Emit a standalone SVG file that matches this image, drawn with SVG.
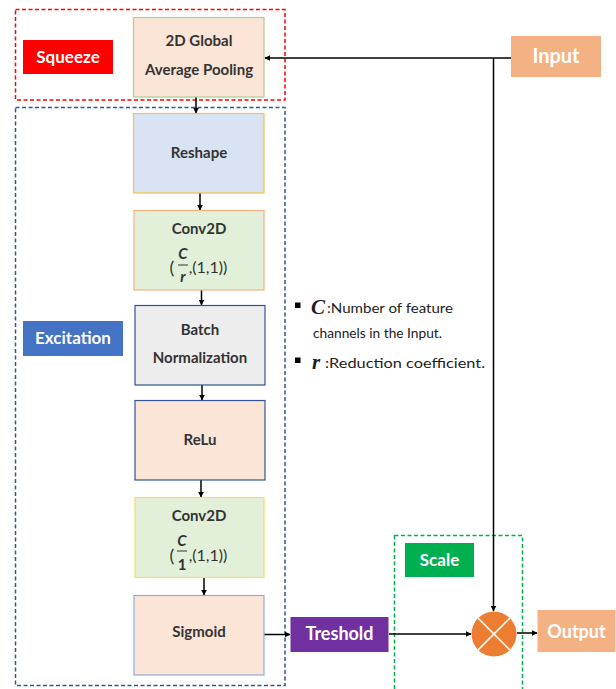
<svg xmlns="http://www.w3.org/2000/svg" width="616" height="689" viewBox="0 0 616 689">
  <defs>
    <style>
      .node text { font-family: Lato, "Open Sans", sans-serif; font-weight: bold; font-size: 15px; fill: #333; text-anchor: middle; }
      .tag { font-family: Lato, "Open Sans", sans-serif; font-weight: bold; font-size: 17px; fill: #fff; text-anchor: middle; }
      .legend { font-family: Lato, "Open Sans", sans-serif; font-size: 14px; fill: #222; }
      .sym { font-family: "Liberation Serif", serif; font-weight: bold; font-style: italic; font-size: 21px; fill: #222; }
      .conn line, .conn path { stroke: #000; stroke-width: 1.5; fill: none; }
      .group { fill: none; stroke-width: 1.5; stroke-dasharray: 4 2.5; }
    </style>
    <marker id="arr" viewBox="0 0 10 10" refX="9" refY="5" markerWidth="6" markerHeight="6" orient="auto" markerUnits="userSpaceOnUse">
      <path d="M0,0 L10,5 L0,10 z" fill="#000"/>
    </marker>
  </defs>
  <rect width="616" height="689" fill="#fff"/>

  <!-- grouping frames -->
  <rect id="squeeze-frame" class="group" x="15.5" y="9.5" width="269.5" height="90.5" stroke="#FF0000"/>
  <rect id="excitation-frame" class="group" x="15.5" y="107.5" width="269.5" height="578" stroke="#2F5597"/>
  <rect id="scale-frame" class="group" x="394.5" y="535.5" width="128" height="160" stroke="#00B050"/>

  <!-- section tags -->
  <g id="squeeze-tag"><rect x="23" y="40" width="90" height="34" fill="#FF0000"/><text class="tag" x="68" y="63">Squeeze</text></g>
  <g id="excitation-tag"><rect x="23" y="321" width="100" height="35" fill="#4472C4"/><text class="tag" x="73" y="344">Excitation</text></g>
  <g id="scale-tag"><rect x="405" y="543" width="69" height="34" fill="#00B050"/><text class="tag" x="439.5" y="566">Scale</text></g>

  <!-- connectors -->
  <g class="conn">
    <line x1="511" y1="58" x2="265" y2="58" marker-end="url(#arr)"/>
    <line x1="493.5" y1="58" x2="493.5" y2="611" marker-end="url(#arr)"/>
    <line x1="196" y1="97" x2="196" y2="113" marker-end="url(#arr)"/>
    <line x1="200" y1="193" x2="200" y2="210" marker-end="url(#arr)"/>
    <line x1="201.5" y1="290" x2="201.5" y2="305" marker-end="url(#arr)"/>
    <line x1="202" y1="385" x2="202" y2="400" marker-end="url(#arr)"/>
    <line x1="201" y1="480" x2="201" y2="497" marker-end="url(#arr)"/>
    <line x1="204" y1="578" x2="204" y2="595" marker-end="url(#arr)"/>
    <line x1="264" y1="634.5" x2="290" y2="634.5" marker-end="url(#arr)"/>
    <line x1="389" y1="634" x2="471" y2="634" marker-end="url(#arr)"/>
    <line x1="517" y1="633" x2="537" y2="633" marker-end="url(#arr)"/>
  </g>

  <!-- nodes -->
  <g id="input"><rect x="511" y="36" width="90" height="41" fill="#F4B183"/><text class="tag" x="556" y="63" style="font-size:20px">Input</text></g>

  <g id="global-pool" class="node">
    <rect x="133.5" y="17.5" width="130.5" height="79.5" fill="#FBE5D6" stroke="#A9D18E" stroke-width="1.2"/>
    <text x="199" y="46">2D Global</text>
    <text x="199" y="75">Average Pooling</text>
  </g>

  <g id="reshape" class="node">
    <rect x="133.5" y="113.5" width="130.5" height="79.5" fill="#DAE3F3" stroke="#F4C542" stroke-width="1.2"/>
    <text x="199" y="158">Reshape</text>
  </g>

  <g id="conv1" class="node">
    <rect x="134" y="210.5" width="130" height="79.5" fill="#E2F0D9" stroke="#F4B183" stroke-width="1.2"/>
    <text x="199" y="234">Conv2D</text>
    <text x="172" y="274" style="font-weight:normal;font-size:18px">(</text>
    <text x="183" y="259" style="font-style:italic">C</text>
    <line x1="178" y1="265" x2="188" y2="265" stroke="#333" stroke-width="1"/>
    <text x="183" y="282" style="font-style:italic">r</text>
    <text x="208" y="273" style="font-weight:normal;font-size:16px">,(1,1))</text>
  </g>

  <g id="batch-norm" class="node">
    <rect x="135" y="305.5" width="130" height="79.5" fill="#EDEDED" stroke="#2F5597" stroke-width="1.2"/>
    <text x="200" y="335">Batch</text>
    <text x="200" y="363">Normalization</text>
  </g>

  <g id="relu" class="node">
    <rect x="135" y="400.5" width="130" height="79.5" fill="#FBE5D6" stroke="#2F5597" stroke-width="1.2"/>
    <text x="200" y="445">ReLu</text>
  </g>

  <g id="conv2" class="node">
    <rect x="135" y="497.5" width="129" height="80" fill="#E2F0D9" stroke="#FFD966" stroke-width="1.2"/>
    <text x="199" y="521">Conv2D</text>
    <text x="172" y="562" style="font-weight:normal;font-size:18px">(</text>
    <text x="182" y="546" style="font-style:italic">C</text>
    <line x1="177" y1="551" x2="187" y2="551" stroke="#333" stroke-width="1"/>
    <text x="182" y="570">1</text>
    <text x="208" y="561" style="font-weight:normal;font-size:16px">,(1,1))</text>
  </g>

  <g id="sigmoid" class="node">
    <rect x="134" y="595.5" width="130" height="79.5" fill="#FBE5D6" stroke="#8FAADC" stroke-width="1.2"/>
    <text x="199" y="637">Sigmoid</text>
  </g>

  <g id="treshold"><rect x="290.5" y="617" width="98" height="35" fill="#7030A0"/><text class="tag" x="339.5" y="640" style="font-size:18px">Treshold</text></g>

  <g id="multiply">
    <circle cx="494" cy="634" r="22.5" fill="#ED7D31"/>
    <line x1="478.1" y1="618.1" x2="509.9" y2="649.9" stroke="#fff" stroke-width="1.5"/>
    <line x1="509.9" y1="618.1" x2="478.1" y2="649.9" stroke="#fff" stroke-width="1.5"/>
  </g>

  <g id="output"><rect x="537.5" y="610" width="78" height="42" fill="#F4B183"/><text class="tag" x="576.5" y="638" style="font-size:18px">Output</text></g>

  <!-- legend -->
  <g id="legend">
    <rect x="295" y="302.5" width="5.5" height="5.5" fill="#000"/>
    <text class="sym" x="311" y="314">C</text>
    <text class="legend" x="327" y="313" textLength="126" lengthAdjust="spacingAndGlyphs">:Number of feature</text>
    <text class="legend" x="313" y="338" textLength="129" lengthAdjust="spacingAndGlyphs">channels in the Input.</text>
    <rect x="295" y="357.5" width="5.5" height="5.5" fill="#000"/>
    <text class="sym" x="312" y="369">r</text>
    <text class="legend" x="325" y="368" textLength="160" lengthAdjust="spacingAndGlyphs">:Reduction coefficient.</text>
  </g>
</svg>
